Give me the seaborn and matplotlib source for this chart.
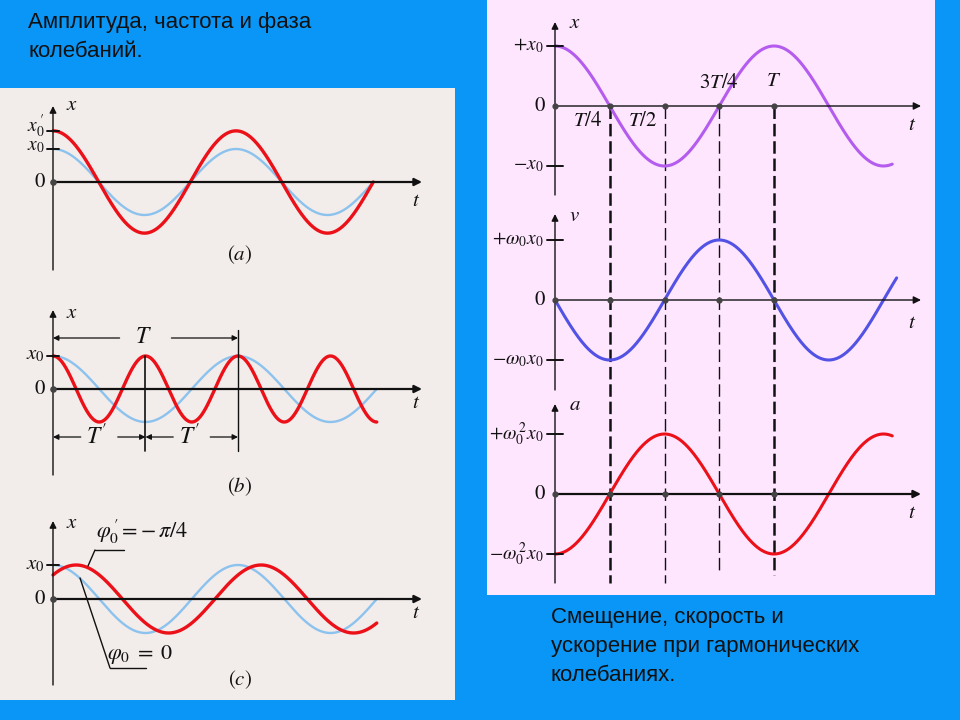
import numpy as np
import pandas as pd
import matplotlib
matplotlib.use("Agg")
import matplotlib.pyplot as plt
import seaborn as sns
from matplotlib.patches import Rectangle

sns.set_theme(style="white")
plt.rcParams['font.family'] = ['Liberation Sans', 'DejaVu Sans']
plt.rcParams['mathtext.fontset'] = 'stix'
plt.rcParams['lines.scale_dashes'] = False

# ---------------- data ----------------
# left panels: x = A cos(2*pi*t/P + phi), t in units of the reference period T
panel_a_amplitudes = [1.0, 1.55]       # x0 (light blue), x0' (red)
panel_a_periods = [1.0, 1.0]
panel_a_phases = [0.0, 0.0]
panel_b_amplitudes = [1.0, 1.0]
panel_b_periods = [1.0, 0.5]           # T and T' = T/2
panel_b_phases = [0.0, 0.0]
panel_c_amplitudes = [1.0, 1.0]
panel_c_periods = [1.0, 1.0]
panel_c_phases = [0.0, -np.pi / 4]     # phi0 = 0, phi0' = -pi/4
left_t_end = 1.75

# right panels: displacement, velocity, acceleration
right_names = ['x', 'v', 'a']
right_amplitudes = [1.0, 1.0, 1.0]
right_phases = [0.0, np.pi / 2, np.pi]
right_t_end = [1.54, 1.56, 1.54]
right_pos_labels = [r'$+x_0$', r'$+\omega_0 x_0$', r'$+\omega_0^{\,2} x_0$']
right_neg_labels = [r'$-x_0$', r'$-\omega_0 x_0$', r'$-\omega_0^{\,2} x_0$']
quarter_marks = [0.25, 0.5, 0.75, 1.0]
quarter_labels = ['$T/4$', '$T/2$', '$3T/4$', '$T$']

# ---------------- style ----------------
BLUE_BG = '#0A96F6'
LEFT_BG = '#F2ECEA'
RIGHT_BG = '#FFE6FF'
RED = '#EC1018'
LIGHT_BLUE = '#8CC2EE'
PURPLE = '#B45CEE'
VBLUE = '#5252E4'
INK = '#111111'

W, H = 960, 720
fig = plt.figure(figsize=(9.6, 7.2), dpi=100)
fig.patch.set_facecolor(BLUE_BG)

bg = fig.add_axes([0, 0, 1, 1])
bg.set_xlim(0, W)
bg.set_ylim(H, 0)
bg.axis('off')
bg.add_patch(Rectangle((0, 88), 455, 612, color=LEFT_BG, lw=0))
bg.add_patch(Rectangle((487, 0), 448, 595, color=RIGHT_BG, lw=0))

bg.text(28, 28, 'Амплитуда, частота и фаза', fontsize=16, color=INK, va='baseline')
bg.text(28, 57, 'колебаний.', fontsize=16, color=INK, va='baseline')
bg.text(551, 623, 'Смещение, скорость и', fontsize=16, color=INK, va='baseline')
bg.text(551, 652, 'ускорение при гармонических', fontsize=16, color=INK, va='baseline')
bg.text(551, 681, 'колебаниях.', fontsize=16, color=INK, va='baseline')


class Panel:
    def __init__(self, left, top, right, bottom, ox, oy, sx, sy):
        self.ox, self.oy, self.sx, self.sy = ox, oy, sx, sy
        ax = fig.add_axes([left / W, 1 - bottom / H, (right - left) / W, (bottom - top) / H])
        ax.set_xlim((left - ox) / sx, (right - ox) / sx)
        ax.set_ylim((oy - bottom) / sy, (oy - top) / sy)
        ax.axis('off')
        self.ax = ax

    def d(self, px, py):
        return (px - self.ox) / self.sx, (self.oy - py) / self.sy

    def text(self, px, py, s, **kw):
        x, y = self.d(px, py)
        kw.setdefault('fontsize', 15)
        kw.setdefault('color', INK)
        kw.setdefault('va', 'center')
        kw.setdefault('ha', 'center')
        self.ax.text(x, y, s, clip_on=False, **kw)

    def axes_lines(self, x_end_px, y_top_px, y_bot_px, xlw=1.6, ylw=1.0):
        ax = self.ax
        xe, _ = self.d(x_end_px, self.oy)
        _, yt = self.d(self.ox, y_top_px)
        _, yb = self.d(self.ox, y_bot_px)
        ax.annotate('', xy=(xe, 0), xytext=(0, 0),
                    arrowprops=dict(arrowstyle='-|>', color=INK, lw=xlw,
                                    mutation_scale=11, shrinkA=0, shrinkB=0))
        ax.annotate('', xy=(0, yt), xytext=(0, yb),
                    arrowprops=dict(arrowstyle='-|>', color=INK, lw=ylw,
                                    mutation_scale=10, shrinkA=0, shrinkB=0))

    def tick(self, yval, half_px=6, lw=1.4):
        h = half_px / self.sx
        self.ax.plot([-h, h], [yval, yval], color=INK, lw=lw, clip_on=False)

    def curve(self, amp, period, phase, t_end, color, lw):
        t = np.linspace(0, t_end, 600)
        df = pd.DataFrame({'t': t, 'v': amp * np.cos(2 * np.pi * t / period + phase)})
        sns.lineplot(data=df, x='t', y='v', ax=self.ax, color=color, lw=lw,
                     estimator=None, sort=False, legend=False)
        self.ax.axis('off')


# ---------------- left panel (a) ----------------
pa = Panel(0, 95, 455, 285, 53, 182, 183, 33)
pa.axes_lines(422, 106, 270)
pa.curve(panel_a_amplitudes[0], panel_a_periods[0], panel_a_phases[0], left_t_end, LIGHT_BLUE, 1.7)
pa.curve(panel_a_amplitudes[1], panel_a_periods[1], panel_a_phases[1], left_t_end, RED, 2.4)
pa.tick(panel_a_amplitudes[0])
pa.tick(panel_a_amplitudes[1])
pa.ax.scatter([0], [0], s=14, color='#444444', zorder=5, clip_on=False)
pa.text(66, 105, '$x$', ha='left')
pa.text(416, 200, '$t$')
pa.text(240, 255, '$(a)$')
pa.text(45, 126, r"$x_0^{\,\prime}$", ha='right', fontsize=14)
pa.text(45, 147, r'$x_0$', ha='right', fontsize=14)
pa.text(45, 182, '0', ha='right', family='STIXGeneral')

# ---------------- left panel (b) ----------------
pb = Panel(0, 295, 455, 495, 53, 389, 185, 33)
pb.axes_lines(422, 310, 475)
pb.curve(panel_b_amplitudes[0], panel_b_periods[0], panel_b_phases[0], left_t_end, LIGHT_BLUE, 1.7)
pb.curve(panel_b_amplitudes[1], panel_b_periods[1], panel_b_phases[1], left_t_end, RED, 2.4)
pb.tick(panel_b_amplitudes[0])
pb.ax.scatter([0], [0], s=14, color='#444444', zorder=5, clip_on=False)
pb.text(66, 313, '$x$', ha='left')
pb.text(416, 403, '$t$')
pb.text(240, 487, '$(b)$')
pb.text(45, 355, r'$x_0$', ha='right')
pb.text(45, 389, '0', ha='right', family='STIXGeneral')
# period marks
T_big = panel_b_periods[0]
T_small = panel_b_periods[1]
_, y_top_T = pb.d(0, 338)
_, y_bot_T = pb.d(0, 437)
_, y_vbot = pb.d(0, 451)
_, y_v1top = pb.d(0, 330)
pb.ax.plot([T_small, T_small], [panel_b_amplitudes[1], y_vbot], color=INK, lw=1.2)
pb.ax.plot([T_big, T_big], [y_v1top, y_vbot], color=INK, lw=1.0)
arr = dict(arrowstyle='-|>', color=INK, lw=0.9, mutation_scale=8, shrinkA=0, shrinkB=0)
pb.ax.annotate('', xy=(0, y_top_T), xytext=(0.36 * T_big, y_top_T), arrowprops=arr)
pb.ax.annotate('', xy=(T_big, y_top_T), xytext=(0.64 * T_big, y_top_T), arrowprops=arr)
pb.text(143, 337, '$T$', fontsize=17)
for k in range(2):
    a0 = k * T_small
    pb.ax.annotate('', xy=(a0, y_bot_T), xytext=(a0 + 0.3 * T_small, y_bot_T), arrowprops=arr)
    pb.ax.annotate('', xy=(a0 + T_small, y_bot_T), xytext=(a0 + 0.7 * T_small, y_bot_T), arrowprops=arr)
pb.text(97, 436, "$T'$", fontsize=17)
pb.text(190, 436, "$T'$", fontsize=17)

# ---------------- left panel (c) ----------------
pc = Panel(0, 505, 455, 698, 53, 599, 185, 34)
pc.axes_lines(422, 521, 685)
pc.curve(panel_c_amplitudes[0], panel_c_periods[0], panel_c_phases[0], left_t_end, LIGHT_BLUE, 1.7)
pc.curve(panel_c_amplitudes[1], panel_c_periods[1], panel_c_phases[1], left_t_end, RED, 2.4)
pc.tick(panel_c_amplitudes[0])
pc.ax.scatter([0], [0], s=14, color='#444444', zorder=5, clip_on=False)
pc.text(66, 523, '$x$', ha='left')
pc.text(416, 612, '$t$')
pc.text(240, 680, '$(c)$')
pc.text(45, 565, r'$x_0$', ha='right')
pc.text(45, 599, '0', ha='right', family='STIXGeneral')
pc.text(96, 532, r"$\varphi^{\,\prime}_0 = -\,\pi/4$", ha='left', fontsize=16)
pc.text(107, 654, r"$\varphi_0\;=\;0$", ha='left', fontsize=16)
for (x1, y1), (x2, y2) in [((95, 550), (124, 550)), ((95, 550), (88, 566)),
                           ((110, 668), (146, 668)), ((110, 668), (80, 578))]:
    p1 = pc.d(x1, y1)
    p2 = pc.d(x2, y2)
    pc.ax.plot([p1[0], p2[0]], [p1[1], p2[1]], color=INK, lw=1.0, clip_on=False)

# ---------------- right panels ----------------
right_specs = [
    (5, 200, 106, 22, 195, PURPLE, 125),
    (200, 395, 300, 214, 390, VBLUE, 322),
    (395, 592, 494, 404, 583, RED, 512),
]
right_panels = []
for i, (top, bottom, oy, ytop, ybot, col, t_y) in enumerate(right_specs):
    p = Panel(487, top, 935, bottom, 555, oy, 219, 60)
    p.axes_lines(921, ytop, ybot, xlw=1.0 if i < 2 else 1.6, ylw=1.0)
    p.curve(right_amplitudes[i], 1.0, right_phases[i], right_t_end[i], col, 2.2)
    p.tick(right_amplitudes[i], half_px=8)
    p.tick(-right_amplitudes[i], half_px=8)
    p.ax.scatter([0] + quarter_marks, [0] * 5, s=12, color='#444444', zorder=5, clip_on=False)
    p.text(569, ytop + 1, '$' + right_names[i] + '$', ha='left', fontsize=15)
    p.text(912, t_y, '$t$', fontsize=15)
    p.text(544, oy - 60, right_pos_labels[i], ha='right', fontsize=14)
    p.text(544, oy + 60, right_neg_labels[i], ha='right', fontsize=14)
    p.text(545, oy, '0', ha='right', fontsize=15, family='STIXGeneral')
    right_panels.append(p)

ptop = right_panels[0]
for q, lab, ly in zip(quarter_marks, quarter_labels, [120, 120, 83, 80]):
    ptop.text(555 + q * 219 - (22 if q < 0.6 else 0), ly, lab, fontsize=15)

# dashed guide lines through the three right panels
dash_end_px = [583, 583, 573, 575]
dash_lw = [1.8, 1.0, 1.0, 1.8]
for q, endpx, lw in zip(quarter_marks, dash_end_px, dash_lw):
    _, yend = ptop.d(0, endpx)
    ptop.ax.plot([q, q], [0, yend], color=INK, lw=lw, linestyle=(0, (9, 3.5)),
                 clip_on=False, zorder=1)

fig.savefig('out.png', dpi=100, facecolor=fig.get_facecolor())
